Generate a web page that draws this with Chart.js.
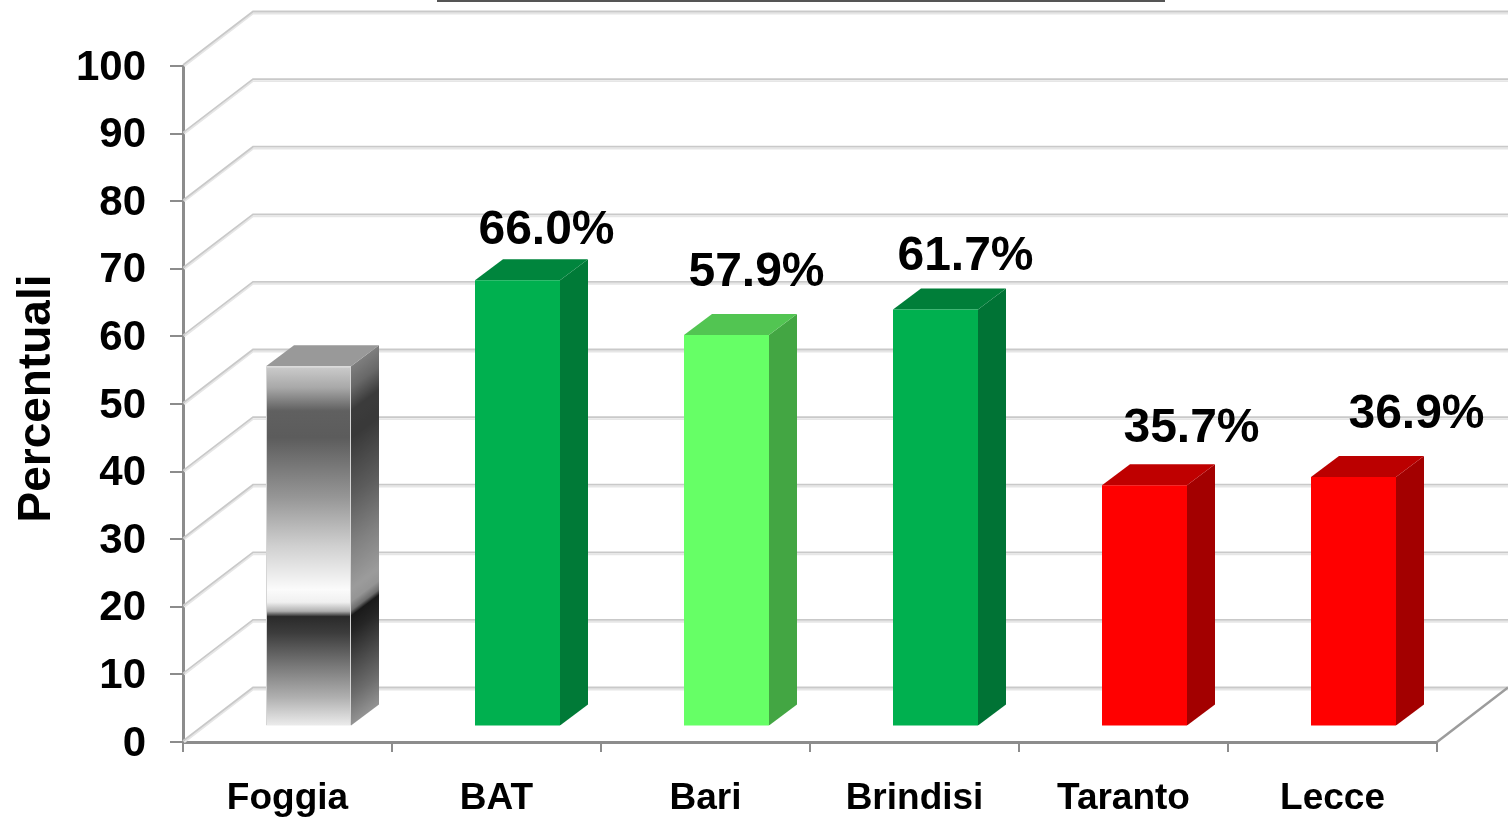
<!DOCTYPE html>
<html>
<head>
<meta charset="utf-8">
<style>html,body{margin:0;padding:0;background:#fff}canvas{display:block}</style>
<script src="https://cdn.jsdelivr.net/npm/chart.js@4"></script>
</head>
<body>
<canvas id="c" width="1508" height="818"></canvas>
<script>
const categories = ["Foggia", "BAT", "Bari", "Brindisi", "Taranto", "Lecce"];
const percentuali = [53.3, 66.0, 57.9, 61.7, 35.7, 36.9];
const valueLabels = [null, "66.0%", "57.9%", "61.7%", "35.7%", "36.9%"];
const yAxisTitle = "Percentuali";

// Styling kept separate from the data
const frontColors = [null, "#00b04f", "#66ff66", "#00b04f", "#ff0000", "#ff0000"];
const sideColors = [null, "#007a37", "#43a643", "#007335", "#a30000", "#a30000"];
const topColors = ["#999999", "#00853d", "#52c552", "#007e39", "#bf0000", "#bb0000"];
const labelNudge = [null, [29, -36], [30, -49], [30, -39], [47, -43], [63, -49]];
const foggiaStops = [[0,"#cccccc"],[.06,"#a8a8a8"],[.124,"#606060"],[.198,"#5c5c5c"],[.364,"#969696"],[.5,"#d0d0d0"],[.62,"#fbfbfb"],[.655,"#f0f0f0"],[.68,"#b0b0b0"],[.695,"#2a2a2a"],[.74,"#3c3c3c"],[.83,"#777777"],[.92,"#b0b0b0"],[1,"#eeeeee"]];

const SHIFT_X = 21, SHIFT_Y = -15.5;   // bars stand in front of the axis plane
const BAR_DX = 28, BAR_DY = 21;        // bar depth
const WALL_DX = 70, WALL_DY = 54.5;    // wall depth
const AXIS = "#8c8c8c";

function foggiaGradient(ctx, top, bottom) {
  const g = ctx.createLinearGradient(0, top, 0, bottom);
  foggiaStops.forEach(s => g.addColorStop(s[0], s[1]));
  return g;
}

const scene = {
  id: "scene",
  beforeDatasetsDraw(chart) {
    const ctx = chart.ctx, y = chart.scales.y, a = chart.chartArea;
    // back wall and side wall gridlines
    ctx.save();
    y.ticks.forEach(t => {
      const py = y.getPixelForValue(t.value);
      [[2, "#e6e6e6"], [0, "#c9c9c9"]].forEach(([o, col]) => {
        ctx.beginPath();
        ctx.moveTo(a.left + o * 0.6, py - 1 + o * 0.6);
        ctx.lineTo(a.left + WALL_DX, py - WALL_DY + o);
        ctx.lineTo(chart.width, py - WALL_DY + o);
        ctx.strokeStyle = col;
        ctx.lineWidth = 1.8;
        ctx.stroke();
      });
    });
    // right edge of floor
    const fy = y.getPixelForValue(0);
    ctx.beginPath();
    ctx.moveTo(a.right, fy);
    ctx.lineTo(a.right + WALL_DX + 1, fy - WALL_DY);
    ctx.strokeStyle = "#9c9c9c";
    ctx.lineWidth = 2.5;
    ctx.stroke();
    // the cut-off underlined title at the top
    ctx.beginPath();
    ctx.moveTo(437, 1);
    ctx.lineTo(1165, 1);
    ctx.strokeStyle = "#555555";
    ctx.lineWidth = 2;
    ctx.stroke();
    ctx.restore();

    // open the translated layer for bars
    ctx.save();
    ctx.translate(SHIFT_X, SHIFT_Y);
    chart.getDatasetMeta(0).data.forEach((bar, i) => {
      const r = bar.x + bar.width / 2, l = bar.x - bar.width / 2, t = bar.y, b = bar.base;
      // side face
      ctx.save();
      ctx.beginPath();
      ctx.moveTo(r, t); ctx.lineTo(r + BAR_DX, t - BAR_DY);
      ctx.lineTo(r + BAR_DX, b - BAR_DY); ctx.lineTo(r, b); ctx.closePath();
      ctx.clip();
      if (i === 0) {
        ctx.setTransform(1, -BAR_DY / BAR_DX, 0, 1, r + SHIFT_X, SHIFT_Y);
        ctx.fillStyle = foggiaGradient(ctx, t, b);
        ctx.fillRect(0, t - 2, BAR_DX + 1, b - t + 4);
        ctx.fillStyle = "rgba(0,0,0,0.38)";
        ctx.fillRect(0, t - 2, BAR_DX + 1, b - t + 4);
      } else {
        ctx.fillStyle = sideColors[i];
        ctx.fillRect(r, t - BAR_DY, BAR_DX, b - t + BAR_DY);
      }
      ctx.restore();
      // top face
      ctx.beginPath();
      ctx.moveTo(l, t); ctx.lineTo(l + BAR_DX, t - BAR_DY);
      ctx.lineTo(r + BAR_DX, t - BAR_DY); ctx.lineTo(r, t); ctx.closePath();
      ctx.fillStyle = topColors[i];
      ctx.fill();
    });
  },
  afterDatasetsDraw(chart) {
    const ctx = chart.ctx;
    ctx.restore();
    // value labels
    ctx.save();
    ctx.fillStyle = "#000";
    ctx.font = "bold 48px 'Liberation Sans'";
    ctx.textAlign = "center";
    ctx.textBaseline = "alphabetic";
    chart.getDatasetMeta(0).data.forEach((bar, i) => {
      if (!valueLabels[i]) return;
      const n = labelNudge[i];
      ctx.fillText(valueLabels[i], bar.x + SHIFT_X + n[0], bar.y + SHIFT_Y + n[1]);
    });
    // axis title
    ctx.translate(50, 398.5);
    ctx.rotate(-Math.PI / 2);
    ctx.font = "bold 46px 'Liberation Sans'";
    ctx.fillText(yAxisTitle, 0, 0);
    ctx.restore();
  }
};

new Chart(document.getElementById("c"), {
  type: "bar",
  data: {
    labels: categories,
    datasets: [{
      label: yAxisTitle,
      data: percentuali,
      backgroundColor(c) {
        if (c.dataIndex !== 0) return frontColors[c.dataIndex];
        const y = c.chart.scales.y;
        const top = y ? y.getPixelForValue(percentuali[0]) : NaN;
        const bottom = y ? y.getPixelForValue(0) : NaN;
        if (!isFinite(top) || !isFinite(bottom)) return "#999999";
        return foggiaGradient(c.chart.ctx, top, bottom);
      },
      borderColor: "#d5d5d5",
      borderWidth(c) { return c.dataIndex === 0 ? 1 : 0; },
      borderSkipped: false,
      barPercentage: 85 / 209,
      categoryPercentage: 1
    }]
  },
  plugins: [scene],
  options: {
    responsive: false,
    animation: false,
    layout: { padding: { top: 66, right: 71, left: 0, bottom: 0 } },
    plugins: { legend: { display: false }, title: { display: false }, tooltip: { enabled: false } },
    scales: {
      x: {
        afterFit(s) { s.height = 76; },
        grid: { drawOnChartArea: false, drawTicks: true, tickLength: 10, color: AXIS, lineWidth: 2, offset: true },
        border: { color: AXIS, width: 3 },
        ticks: { color: "#000", font: { family: "'Liberation Sans'", weight: "bold", size: 37 }, padding: 25, maxRotation: 0, autoSkip: false }
      },
      y: {
        min: 0, max: 100,
        afterFit(s) {
          s.width = 183;
          if (!s._nudged) {
            s._nudged = true;
            const orig = s._computeLabelItems;
            s._computeLabelItems = function (ca) {
              const items = orig.call(this, ca);
              items.forEach(it => { it.options.translation[1] += 2; });
              return items;
            };
          }
        },
        grid: { drawOnChartArea: false, drawTicks: true, tickLength: 13, color: AXIS, lineWidth: 2 },
        border: { color: AXIS, width: 3 },
        ticks: { stepSize: 10, color: "#000", font: { family: "'Liberation Sans'", weight: "bold", size: 42 }, padding: 24 }
      }
    }
  }
});
</script>
</body>
</html>
